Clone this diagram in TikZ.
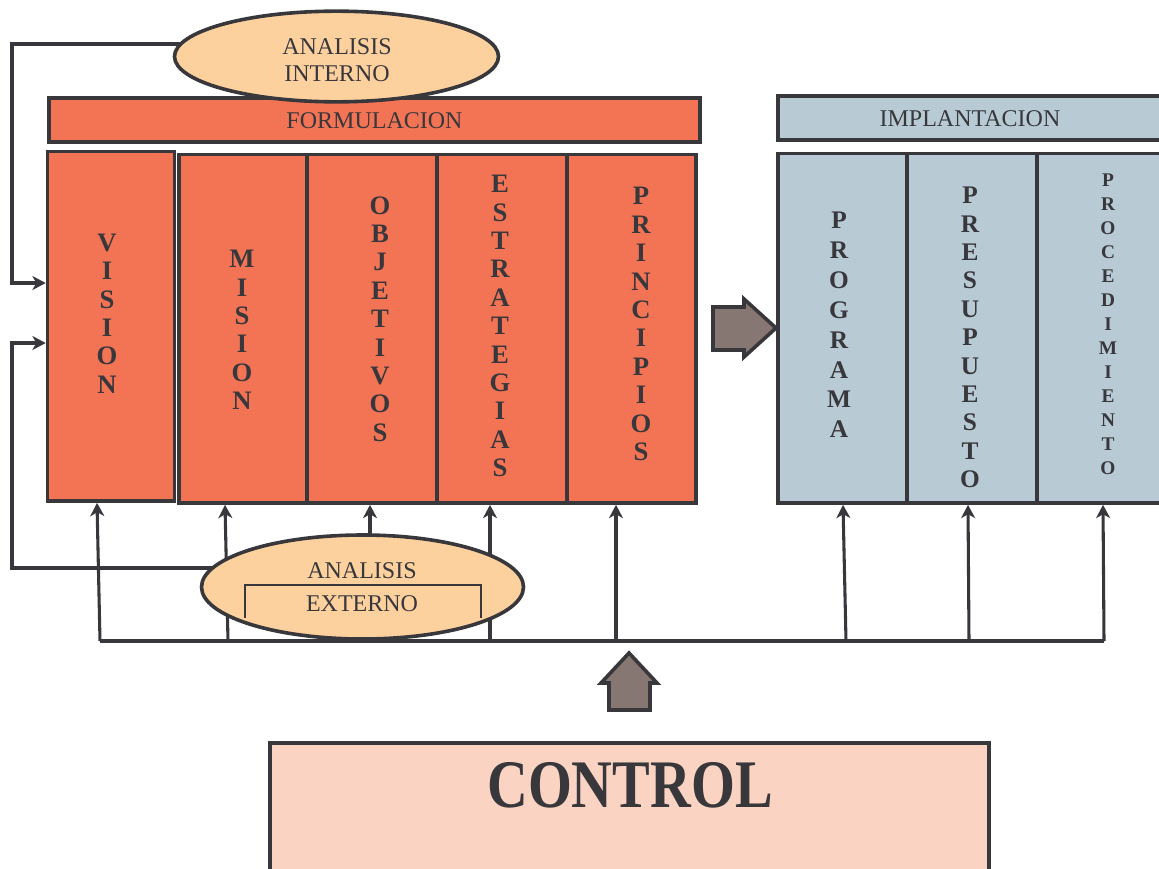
\documentclass[tikz,border=0pt]{standalone}
\usepackage{fontspec}
\setmainfont{Liberation Serif}
\usetikzlibrary{shapes.geometric,arrows.meta,fit}

\definecolor{ink}{RGB}{56,55,60}
\definecolor{formfill}{RGB}{242,116,85}
\definecolor{implfill}{RGB}{184,203,212}
\definecolor{ovalfill}{RGB}{253,209,158}
\definecolor{ctrlfill}{RGB}{251,211,194}
\definecolor{blockarrow}{RGB}{135,119,115}

\begin{document}
\begin{tikzpicture}[x=0.75pt,y=-0.75pt,
  box/.style={rectangle,draw=ink,line width=2.7pt,inner sep=0pt},
  formbox/.style={box,fill=formfill},
  implbox/.style={box,fill=implfill},
  oval/.style={ellipse,draw=ink,line width=2.7pt,fill=ovalfill,inner sep=0pt},
  lbl/.style={text=ink,font=\fontsize{18}{20.3}\selectfont,align=center,inner sep=0pt},
  letters/.style={text=ink,align=center,inner sep=0pt,font=\bfseries\fontsize{20}{21.3}\selectfont},
  conn/.style={draw=ink,line width=2.3pt},
  arr/.style={conn,-{Stealth[length=10pt,width=10.5pt,inset=3pt]}},
  fatarrow/.style={draw=ink,line width=2.7pt,fill=blockarrow,line join=miter},
]
\useasboundingbox (0,0) rectangle (1159,868);
\clip (0,0) rectangle (1159,868);

% ---- formulation block ----
\node[formbox,fit={(49,98) (700,142)},lbl] (formulacion) {};
\node[lbl] (formulacion-txt) at (374.5,121) {FORMULACION};

\node[formbox,fit={(47.5,151.5) (174.5,501)}] (vision) {};
\node[formbox,fit={(179,154.5) (307,503)}] (mision) {};
\node[formbox,fit={(307,154.5) (437,503)}] (objetivos) {};
\node[formbox,fit={(437,154.5) (567,503)}] (estrategias) {};
\node[formbox,fit={(567,154.5) (696,503)}] (principios) {};

\node[letters] (vision-txt) at (107,313.5) {V\\I\\S\\I\\O\\N};
\node[letters] (mision-txt) at (242,330) {M\\I\\S\\I\\O\\N};
\node[letters] (objetivos-txt) at (380,319) {O\\B\\J\\E\\T\\I\\V\\O\\S};
\node[letters] (estrategias-txt) at (500,326) {E\\S\\T\\R\\A\\T\\E\\G\\I\\A\\S};
\node[letters] (principios-txt) at (641,324) {P\\R\\I\\N\\C\\I\\P\\I\\O\\S};

% ---- implementation block ----
\node[implbox,fit={(778,96) (1162,140)}] (implantacion) {};
\node[lbl] (implantacion-txt) at (970,119) {IMPLANTACION};

\node[implbox,fit={(778,153.5) (907,503)}] (programa) {};
\node[implbox,fit={(907,153.5) (1037,503)}] (presupuesto) {};
\node[implbox,fit={(1037,153.5) (1170,503)}] (procedimiento) {};

\node[letters,font=\bfseries\fontsize{19}{22.4}\selectfont] (programa-txt) at (839,325) {P\\R\\O\\G\\R\\A\\M\\A};
\node[letters,font=\bfseries\fontsize{19}{21.3}\selectfont] (presupuesto-txt) at (970,337.5) {P\\R\\E\\S\\U\\P\\U\\E\\S\\T\\O};
\node[letters,font=\bfseries\fontsize{14.5}{18}\selectfont] (procedimiento-txt) at (1108,324.5) {P\\R\\O\\C\\E\\D\\I\\M\\I\\E\\N\\T\\O};

% ---- feedback loops into VISION ----
\draw[arr] (336,44) -- (12,44) |- (vision.west |- 0,283);
\draw[arr] (362,568) -- (12,568) |- (vision.west |- 0,343);

% ---- control bus ----
\coordinate (bus-w) at (100,641);
\coordinate (bus-e) at (1104,641);
\draw[conn] (bus-w) -- (bus-e);
\draw[arr] (bus-w) -- (vision.south -| 97,0);
\draw[arr] (228,641) -- (mision.south -| 225,0);
\draw[arr] (370,587) -- (objetivos.south -| 370,0);
\draw[arr] (490,641) -- (estrategias.south -| 490,0);
\draw[arr] (616,641) -- (principios.south -| 616,0);
\draw[arr] (846,641) -- (programa.south -| 843,0);
\draw[arr] (969,641) -- (presupuesto.south -| 968,0);
\draw[arr] (bus-e) -- (procedimiento.south -| 1103,0);

% ---- analysis ovals ----
\node[oval,minimum width=243pt,minimum height=68pt] (interno) at (336.5,56.5) {};
\node[lbl] (interno-txt) at (337,60) {ANALISIS\\INTERNO};

\node[oval,minimum width=241.5pt,minimum height=78pt] (externo) at (362.5,587) {};
\node[lbl,font=\fontsize{18}{24.8}\selectfont] (externo-txt) at (362,587.5) {ANALISIS\\EXTERNO};
\draw[ink,line width=1.4pt] (245,618) |- (481,585) -- (481,618);

% ---- block arrows ----
\draw[fatarrow] (713,307) -- (744,307) -- (744,299) -- (776,328) -- (744,357) -- (744,350) -- (713,350) -- cycle;
\draw[fatarrow] (609,710) -- (609,683) -- (601,683) -- (629,653) -- (657,683) -- (650,683) -- (650,710) -- cycle;

% ---- control ----
\node[box,fill=ctrlfill,fit={(270,743) (989,890)}] (control) {};
\node[text=ink,inner sep=0pt,font=\bfseries\fontsize{51}{51}\selectfont] (control-txt) at (630,785.5) {\scalebox{0.83}[1]{CONTROL}};
\end{tikzpicture}
\end{document}
